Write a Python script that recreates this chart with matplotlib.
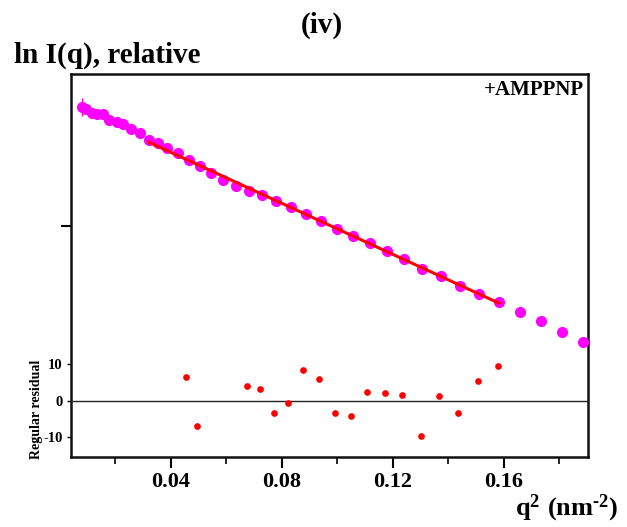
import numpy as np
import matplotlib
matplotlib.use("Agg")
import matplotlib.pyplot as plt

plt.rcParams['font.family'] = ['Liberation Serif', 'DejaVu Serif']
plt.rcParams['font.weight'] = 'bold'
plt.rcParams['mathtext.fontset'] = 'custom'
plt.rcParams['mathtext.rm'] = 'Liberation Serif:bold'
plt.rcParams['mathtext.bf'] = 'Liberation Serif:bold'
plt.rcParams['mathtext.it'] = 'Liberation Serif:bold'

# Guinier data: q^2 (nm^-2) and relative ln I(q)
q2 = [0.00782, 0.00937, 0.01142, 0.01323, 0.01539, 0.01777, 0.02043, 0.02281,
      0.02559, 0.02883, 0.03196, 0.03521, 0.03867, 0.04241, 0.04649, 0.05034,
      0.05441, 0.05874, 0.06332, 0.06800, 0.07279, 0.07784, 0.08324, 0.08865,
      0.09405, 0.09982, 0.10559, 0.11171, 0.11773, 0.12407, 0.13056, 0.13719,
      0.14414, 0.15110, 0.15831, 0.16577, 0.17333, 0.18090, 0.18858]
lnI = [1.193, 1.17, 1.13, 1.123, 1.123, 1.06, 1.037, 1.02,
       0.967, 0.927, 0.86, 0.827, 0.777, 0.727, 0.66, 0.60,
       0.533, 0.46, 0.40, 0.35, 0.31, 0.25, 0.19, 0.12,
       0.05, -0.03, -0.10, -0.17, -0.245, -0.33, -0.43, -0.50,
       -0.595, -0.675, -0.76, -0.86, -0.95, -1.06, -1.155]
lnI_err = [0.09] + [0.02] * 38

fit_start, fit_end = 10, 34  # indices of the Guinier fit range

# residuals
res_q2 = [0.04530, 0.04948, 0.06728, 0.07207, 0.07712, 0.08227, 0.08768, 0.09323,
          0.09899, 0.10476, 0.11074, 0.11701, 0.12335, 0.12998, 0.13658, 0.14353,
          0.15063, 0.15784]
res_val = [6.66, -7.04, 4.11, 3.2, -3.29, -0.63, 8.58, 6.03,
           -3.29, -4.11, 2.27, 2.19, 1.56, -9.78, 1.29, -3.48,
           5.48, 9.67]

xticks = [0.04, 0.08, 0.12, 0.16]
xtick_labels = ['0.04', '0.08', '0.12', '0.16']
res_ticks = [-10, 0, 10]

W, H = 627, 527
fig = plt.figure(figsize=(W / 100, H / 100), dpi=100)

L, R, T, B = 71, 588, 74, 457
ax = fig.add_axes([L / W, 1 - B / H, (R - L) / W, (B - T) / H])
ax.set_xlim(0.004, 0.1903)
ax.set_ylim(-2.31, 1.52)

x = np.array(q2)
y = np.array(lnI)
ax.errorbar(x, y, yerr=lnI_err, fmt='o', color='#ff00ff', ms=7, mec='#ff00ff',
            ecolor='#ff00ff', elinewidth=1, capsize=0, zorder=3)
coef = np.polyfit(x[fit_start:fit_end + 1], y[fit_start:fit_end + 1], 1)
xf = np.array([x[fit_start], x[fit_end]])
ax.plot(xf, np.polyval(coef, xf), color='red', lw=2.2, zorder=4)

for s in ax.spines.values():
    s.set_linewidth(1.8)
    s.set_color('#111111')
ax.set_yticks([0])
ax.set_yticklabels([])
ax.tick_params(axis='y', direction='out', length=7, width=1.5)
ax.set_xticks(xticks)
ax.set_xticklabels(xtick_labels)
ax.set_xticks([0.02, 0.06, 0.10, 0.14, 0.18], minor=True)
ax.tick_params(axis='x', which='major', direction='out', length=8, width=1.5,
               labelsize=16, pad=3)
ax.tick_params(axis='x', which='minor', direction='out', length=5, width=1.2)
for lab in ax.get_xticklabels():
    lab.set_fontweight('bold')

ax.text(584 / W, 1 - 90 / H, '+AMPPNP', transform=fig.transFigure, ha='right',
        va='center', fontsize=15, fontweight='bold')

# residual panel
rtop = 346
rax = fig.add_axes([L / W, 1 - B / H, (R - L) / W, (B - rtop) / H])
rax.patch.set_visible(False)
for s in rax.spines.values():
    s.set_visible(False)
rax.set_xlim(ax.get_xlim())
rax.set_ylim(-15.5, 15.07)
rax.axhline(0, color='#222222', lw=1)
rax.plot(res_q2, res_val, 'o', color='red', ms=3.8, mec='red')
rax.set_xticks([])
rax.set_yticks(res_ticks)
rax.set_yticklabels([str(t) for t in res_ticks])
rax.tick_params(axis='y', direction='out', length=3, width=1.0, labelsize=10.5, pad=3)
for lab in rax.get_yticklabels():
    lab.set_fontweight('bold')
rax.set_ylabel('Regular residual', fontsize=10, fontweight='bold')
rax.yaxis.set_label_coords(43 / W, 1 - 409 / H, transform=fig.transFigure)

fig.text(322 / W, 1 - 25 / H, '(iv)', ha='center', va='center',
         fontsize=21, fontweight='bold')
fig.text(14 / W, 1 - 55 / H, 'ln I(q), relative', ha='left', va='center',
         fontsize=21, fontweight='bold')
fig.text(515 / W, 1 - 508 / H, r'$\mathbf{q^{2}\ (nm^{\text{-}2})}$', ha='left',
         va='center', fontsize=19)

fig.savefig('out.png', dpi=100)
